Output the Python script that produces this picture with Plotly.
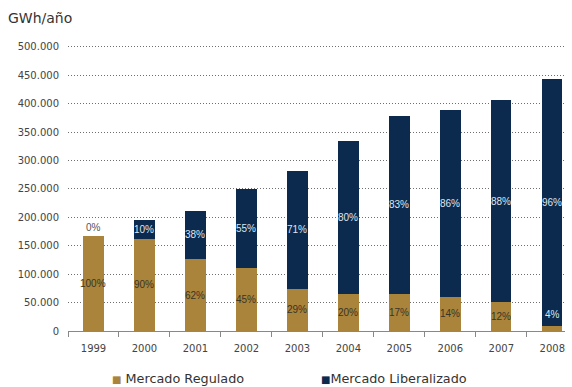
import plotly.graph_objects as go

# Electricity supplied per year (GWh/año) split by market type
years = ["1999", "2000", "2001", "2002", "2003", "2004", "2005", "2006", "2007", "2008"]
regulado = [167000, 162000, 126000, 111000, 74000, 65000, 65000, 60000, 50500, 9000]
liberalizado = [0, 33000, 86000, 138500, 208000, 269500, 314000, 329500, 356500, 435000]

# Share labels printed on each segment
pct_regulado = ["100%", "90%", "62%", "45%", "29%", "20%", "17%", "14%", "12%", "4%"]
pct_liberalizado = ["0%", "10%", "38%", "55%", "71%", "80%", "83%", "86%", "88%", "96%"]

y_ticks = [0, 50000, 100000, 150000, 200000, 250000, 300000, 350000, 400000, 450000, 500000]

GOLD = "#A9843A"
NAVY = "#0B2A4E"
FONT = "DejaVu Sans"
LABEL_FONT = "Liberation Sans"

fig = go.Figure()
fig.add_trace(go.Bar(x=years, y=regulado, name="Mercado Regulado",
                     marker=dict(color=GOLD, line=dict(width=0)), width=0.4,
                     showlegend=False))
fig.add_trace(go.Bar(x=years, y=liberalizado, name="Mercado Liberalizado",
                     marker=dict(color=NAVY, line=dict(width=0)), width=0.4,
                     showlegend=False))

annotations = []
for i, (r, l, pr, pl) in enumerate(zip(regulado, liberalizado, pct_regulado, pct_liberalizado)):
    # regulated share: centred in the gold segment, lifted into the blue one if too thin
    if r < 20000:
        annotations.append(dict(xref="x", yref="y", x=i, y=r, text=pr, showarrow=False,
                                yshift=11,
                                font=dict(family=LABEL_FONT, size=10, color="#dfe6ef")))
    else:
        annotations.append(dict(xref="x", yref="y", x=i, y=r / 2, text=pr, showarrow=False,
                                font=dict(family=LABEL_FONT, size=10, color="#3a3427")))
    # liberalized share: centred in the blue segment, above the bar when empty
    if l == 0:
        annotations.append(dict(xref="x", yref="y", x=i, y=r + l, text=pl, showarrow=False,
                                yshift=9,
                                font=dict(family=LABEL_FONT, size=10, color="#555555")))
    else:
        annotations.append(dict(xref="x", yref="y", x=i, y=r + l / 2, text=pl,
                                showarrow=False,
                                font=dict(family=LABEL_FONT, size=10, color="#dfe6ef")))

# axis unit title
annotations.append(dict(xref="paper", yref="paper", x=-0.125, y=1.09, xanchor="left",
                        yanchor="middle", text="GWh/año", showarrow=False,
                        font=dict(family=FONT, size=14, color="#333333")))
# legend entries
annotations.append(dict(xref="paper", yref="paper", x=0.085, y=-0.165, xanchor="left",
                        yanchor="middle", showarrow=False,
                        text=f"<span style='color:{GOLD};font-size:10px'>■</span> Mercado Regulado",
                        font=dict(family=FONT, size=12.8, color="#333333")))
annotations.append(dict(xref="paper", yref="paper", x=0.505, y=-0.165, xanchor="left",
                        yanchor="middle", showarrow=False,
                        text=f"<span style='color:{NAVY};font-size:10px'>■</span>Mercado Liberalizado",
                        font=dict(family=FONT, size=12.8, color="#333333")))

fig.update_layout(
    width=572, height=387,
    margin=dict(l=68, r=7, t=44, b=56),
    barmode="stack",
    plot_bgcolor="white", paper_bgcolor="white",
    separators=",.",
    font=dict(family=FONT, size=10, color="#444444"),
    annotations=annotations,
    xaxis=dict(type="category", range=[-0.5, 9.25], showline=True, linecolor="#888888",
               linewidth=1, ticks="outside", tickson="boundaries", ticklen=5,
               tickcolor="#888888", showgrid=False, ticklabelstandoff=8,
               tickfont=dict(size=10, color="#444444")),
    yaxis=dict(range=[0, 505000], tickvals=y_ticks, tickformat=",d", showgrid=True,
               gridcolor="#6f6f6f", griddash="1px,2px", gridwidth=1, zeroline=False,
               showline=False, ticklabelstandoff=8, tickfont=dict(size=10, color="#444444")),
)

fig.write_html("out.html")
